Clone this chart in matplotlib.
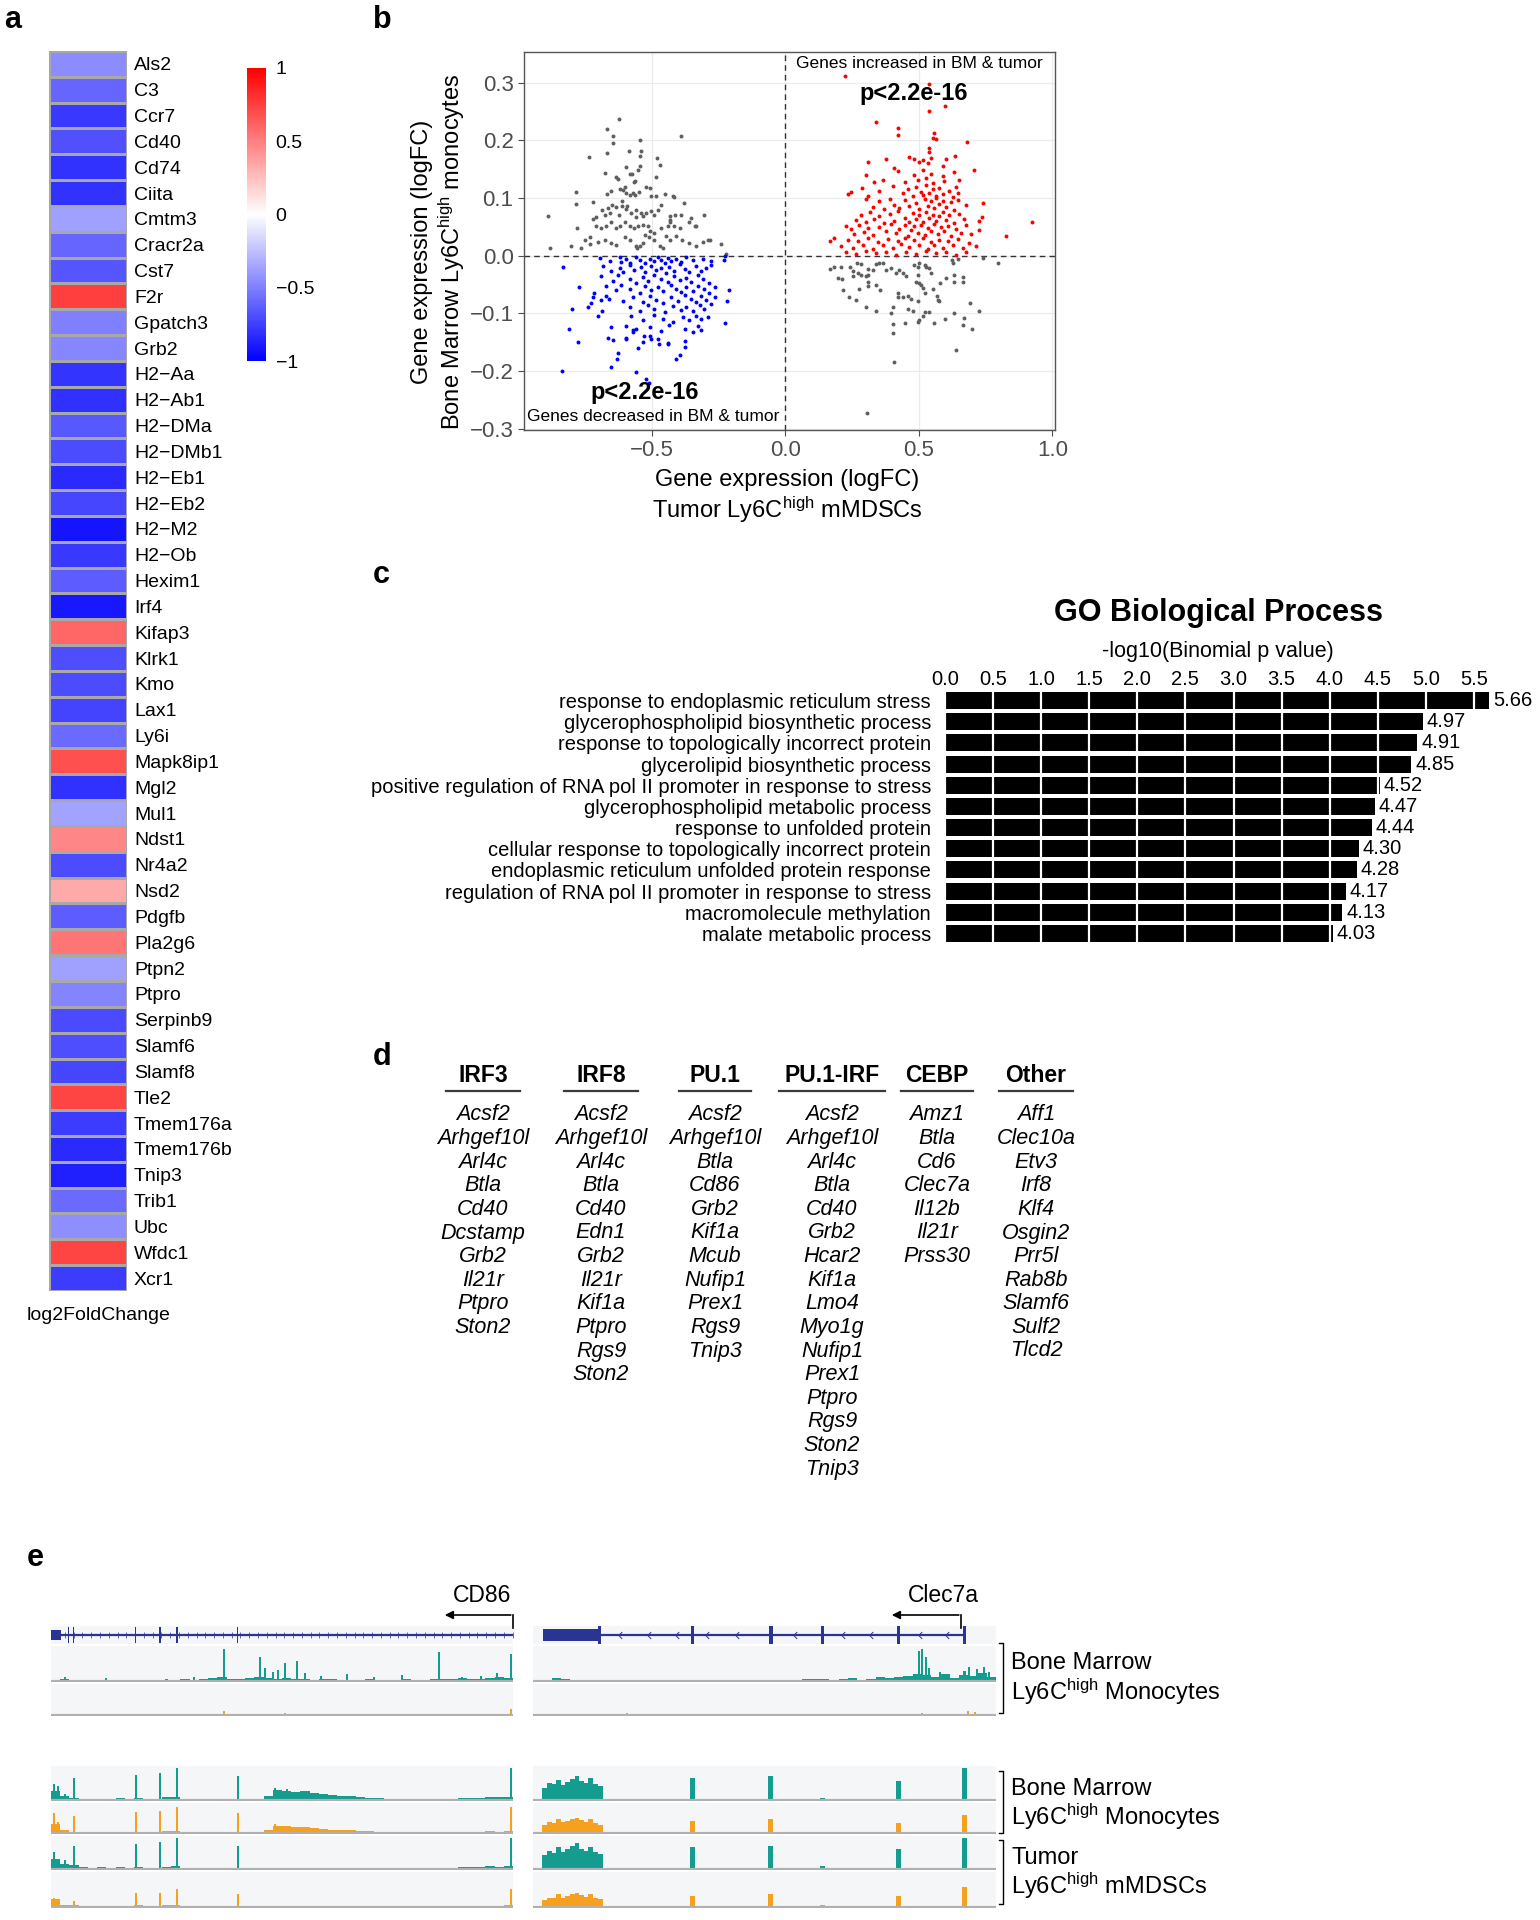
import numpy as np
import matplotlib
matplotlib.use('Agg')
import matplotlib.pyplot as plt
from matplotlib.colors import LinearSegmentedColormap
from matplotlib.path import Path

plt.rcParams['font.family'] = ['Liberation Sans', 'DejaVu Sans']
plt.rcParams['mathtext.fontset'] = 'custom'
plt.rcParams['mathtext.rm'] = 'Liberation Sans'
plt.rcParams['mathtext.it'] = 'Liberation Sans:italic'
plt.rcParams['mathtext.bf'] = 'Liberation Sans:bold'

# ---------------- DATA ----------------
# panel a
heat_genes = ['Als2', 'C3', 'Ccr7', 'Cd40', 'Cd74', 'Ciita', 'Cmtm3', 'Cracr2a', 'Cst7', 'F2r',
              'Gpatch3', 'Grb2', 'H2\u2212Aa', 'H2\u2212Ab1', 'H2\u2212DMa', 'H2\u2212DMb1', 'H2\u2212Eb1',
              'H2\u2212Eb2', 'H2\u2212M2', 'H2\u2212Ob', 'Hexim1', 'Irf4', 'Kifap3', 'Klrk1', 'Kmo', 'Lax1',
              'Ly6i', 'Mapk8ip1', 'Mgl2', 'Mul1', 'Ndst1', 'Nr4a2', 'Nsd2', 'Pdgfb', 'Pla2g6', 'Ptpn2',
              'Ptpro', 'Serpinb9', 'Slamf6', 'Slamf8', 'Tle2', 'Tmem176a', 'Tmem176b', 'Tnip3', 'Trib1',
              'Ubc', 'Wfdc1', 'Xcr1']
heat_log2fc = [-0.45, -0.60, -0.78, -0.68, -0.80, -0.80, -0.37, -0.60, -0.66, 0.75,
               -0.50, -0.47, -0.79, -0.81, -0.65, -0.70, -0.83, -0.72, -0.92, -0.78,
               -0.64, -0.90, 0.60, -0.69, -0.70, -0.73, -0.58, 0.68, -0.81, -0.36,
               0.47, -0.70, 0.33, -0.64, 0.54, -0.37, -0.48, -0.71, -0.69, -0.72,
               0.73, -0.76, -0.83, -0.87, -0.58, -0.44, 0.73, -0.76]
cbar_ticks = [1, 0.5, 0, -0.5, -1]
cbar_ticklabels = ['1', '0.5', '0', '\u22120.5', '\u22121']

# panel b : (tumor logFC, bone-marrow logFC)
red_pts = [
    (0.224, 0.311), (0.536, 0.298), (0.539, 0.25), (0.596, 0.259), (0.34, 0.231), (0.421, 0.222), (0.423, 0.21),
    (0.558, 0.212), (0.552, 0.204), (0.565, 0.203), (0.68, 0.197), (0.539, 0.186), (0.537, 0.179), (0.925, 0.059),
    (0.828, 0.035), (0.742, 0.091), (0.738, 0.067),
    (0.308, 0.163), (0.377, 0.167), (0.408, 0.152), (0.464, 0.171), (0.483, 0.168), (0.502, 0.163), (0.514, 0.166),
    (0.533, 0.160), (0.546, 0.170), (0.589, 0.156), (0.602, 0.168), (0.635, 0.172), (0.708, 0.148),
    (0.302, 0.139), (0.33, 0.127), (0.365, 0.132), (0.421, 0.146), (0.446, 0.128), (0.483, 0.139), (0.496, 0.131),
    (0.514, 0.148), (0.527, 0.135), (0.546, 0.142), (0.552, 0.126), (0.589, 0.138), (0.595, 0.129), (0.633, 0.145),
    (0.652, 0.131),
    (0.233, 0.107), (0.246, 0.110), (0.287, 0.118), (0.308, 0.104), (0.352, 0.112), (0.402, 0.121), (0.439, 0.108),
    (0.458, 0.116), (0.477, 0.103), (0.489, 0.119), (0.508, 0.111), (0.514, 0.105), (0.527, 0.122), (0.539, 0.109),
    (0.552, 0.115), (0.564, 0.104), (0.577, 0.118), (0.589, 0.107), (0.614, 0.113), (0.627, 0.102), (0.639, 0.119),
    (0.645, 0.108),
    (0.30, 0.098), (0.327, 0.085), (0.352, 0.094), (0.371, 0.081), (0.39, 0.099), (0.408, 0.088), (0.427, 0.083),
    (0.446, 0.096), (0.464, 0.086), (0.489, 0.092), (0.502, 0.081), (0.521, 0.099), (0.533, 0.087), (0.546, 0.094),
    (0.558, 0.082), (0.564, 0.1), (0.577, 0.089), (0.589, 0.095), (0.602, 0.084), (0.62, 0.093), (0.633, 0.08),
    (0.645, 0.097), (0.677, 0.088),
    (0.265, 0.062), (0.283, 0.071), (0.302, 0.058), (0.315, 0.075), (0.333, 0.064), (0.352, 0.069), (0.371, 0.057),
    (0.39, 0.073), (0.408, 0.061), (0.421, 0.077), (0.446, 0.066), (0.464, 0.059), (0.477, 0.074), (0.489, 0.063),
    (0.502, 0.07), (0.514, 0.058), (0.527, 0.076), (0.539, 0.065), (0.552, 0.071), (0.564, 0.06), (0.577, 0.068),
    (0.589, 0.075), (0.602, 0.062), (0.614, 0.07), (0.633, 0.057), (0.652, 0.073), (0.67, 0.064), (0.724, 0.061),
    (0.165, 0.025), (0.183, 0.031), (0.227, 0.052), (0.246, 0.046), (0.258, 0.038), (0.277, 0.053), (0.296, 0.041),
    (0.308, 0.048), (0.327, 0.036), (0.352, 0.05), (0.377, 0.043), (0.396, 0.055), (0.414, 0.039), (0.427, 0.047),
    (0.446, 0.053), (0.458, 0.034), (0.471, 0.045), (0.483, 0.051), (0.496, 0.04), (0.508, 0.054), (0.521, 0.036),
    (0.533, 0.048), (0.546, 0.042), (0.558, 0.055), (0.571, 0.037), (0.583, 0.049), (0.595, 0.043), (0.608, 0.052),
    (0.62, 0.035), (0.639, 0.046), (0.658, 0.04), (0.677, 0.053), (0.695, 0.038), (0.727, 0.044),
    (0.208, 0.017), (0.233, 0.028), (0.252, 0.014), (0.271, 0.025), (0.29, 0.019), (0.308, 0.031), (0.327, 0.012),
    (0.346, 0.024), (0.365, 0.018), (0.383, 0.029), (0.402, 0.013), (0.421, 0.026), (0.433, 0.02), (0.446, 0.03),
    (0.464, 0.015), (0.483, 0.027), (0.502, 0.018), (0.514, 0.031), (0.533, 0.012), (0.546, 0.024), (0.558, 0.019),
    (0.577, 0.028), (0.589, 0.014), (0.608, 0.025), (0.627, 0.018), (0.645, 0.029), (0.664, 0.013), (0.689, 0.022),
    (0.714, 0.016),
    (0.227, 0.006), (0.265, 0.003), (0.302, 0.008), (0.34, 0.004), (0.377, 0.007), (0.414, 0.002), (0.452, 0.006),
    (0.489, 0.003), (0.527, 0.008), (0.564, 0.004), (0.602, 0.007), (0.639, 0.002), (0.677, 0.006)]

grey_right_pts = [
    (0.795, -0.013), (0.69, -0.082), (0.727, -0.095), (0.67, -0.108), (0.667, -0.12), (0.70, -0.127), (0.64, -0.164),
    (0.408, -0.184), (0.306, -0.273), (0.402, -0.134), (0.402, -0.118), (0.446, -0.117),
    (0.496, -0.115), (0.502, -0.111), (0.517, -0.105), (0.523, -0.097), (0.539, -0.097), (0.558, -0.117),
    (0.599, -0.110), (0.63, -0.099), (0.396, -0.1), (0.402, -0.089), (0.30, -0.088), (0.34, -0.095), (0.458, -0.093),
    (0.477, -0.095), (0.496, -0.079), (0.237, -0.071), (0.265, -0.076),
    (0.215, -0.059), (0.277, -0.058), (0.308, -0.052), (0.356, -0.059), (0.423, -0.064), (0.423, -0.072),
    (0.44, -0.072), (0.458, -0.069), (0.471, -0.075), (0.568, -0.069), (0.571, -0.076), (0.574, -0.078),
    (0.514, -0.056), (0.521, -0.065), (0.552, -0.058), (0.58, -0.047), (0.633, -0.045), (0.664, -0.045),
    (0.664, -0.037), (0.196, -0.038), (0.212, -0.041), (0.252, -0.035), (0.283, -0.033), (0.30, -0.035),
    (0.308, -0.033), (0.252, -0.027), (0.271, -0.03),
    (0.165, -0.023), (0.181, -0.019), (0.209, -0.019), (0.24, -0.02), (0.267, -0.013), (0.283, -0.014),
    (0.308, -0.023), (0.327, -0.024), (0.34, -0.015), (0.352, -0.013), (0.364, -0.012), (0.377, -0.024),
    (0.396, -0.021), (0.415, -0.030), (0.427, -0.024), (0.442, -0.030), (0.452, -0.036),
    (0.483, -0.016), (0.496, -0.019), (0.502, -0.013), (0.521, -0.016), (0.527, -0.019), (0.539, -0.021),
    (0.546, -0.03), (0.496, -0.033), (0.49, -0.045), (0.502, -0.047), (0.508, -0.05),
    (0.602, -0.039), (0.623, -0.007), (0.627, -0.012), (0.648, -0.006), (0.742, -0.004), (0.633, -0.033),
    (0.308, -0.045), (0.34, -0.05)]

blue_pts = [
    (-0.834, -0.019), (-0.774, -0.054), (-0.8, -0.093), (-0.812, -0.127), (-0.778, -0.15), (-0.836, -0.199),
    (-0.740, -0.089), (-0.728, -0.082), (-0.722, -0.072), (-0.718, -0.064), (-0.693, -0.076), (-0.687, -0.095),
    (-0.703, -0.105), (-0.663, -0.075), (-0.653, -0.124), (-0.665, -0.143), (-0.647, -0.146), (-0.628, -0.168),
    (-0.63, -0.179), (-0.653, -0.193), (-0.562, -0.201), (-0.522, -0.213), (-0.513, -0.221), (-0.553, -0.160),
    (-0.597, -0.145), (-0.572, -0.133), (-0.559, -0.127), (-0.532, -0.139), (-0.509, -0.139), (-0.503, -0.145),
    (-0.474, -0.153), (-0.441, -0.153), (-0.409, -0.179), (-0.397, -0.172), (-0.375, -0.158), (-0.227, -0.116),
    (-0.21, -0.059), (-0.22, -0.078), (-0.266, -0.072), (-0.231, -0.007), (-0.228, -0.001),
    (-0.697, -0.004), (-0.659, -0.009), (-0.622, -0.002), (-0.616, -0.011), (-0.597, -0.006), (-0.584, -0.013),
    (-0.559, -0.003), (-0.547, -0.008), (-0.528, -0.012), (-0.509, -0.005), (-0.491, -0.01), (-0.478, -0.002),
    (-0.466, -0.007), (-0.453, -0.012), (-0.441, -0.004), (-0.428, -0.009), (-0.41, -0.006), (-0.391, -0.011),
    (-0.372, -0.003), (-0.347, -0.008), (-0.31, -0.005), (-0.279, -0.01),
    (-0.684, -0.018), (-0.653, -0.026), (-0.622, -0.021), (-0.609, -0.029), (-0.584, -0.016), (-0.566, -0.024),
    (-0.541, -0.02), (-0.528, -0.028), (-0.503, -0.017), (-0.485, -0.025), (-0.466, -0.022), (-0.447, -0.03),
    (-0.435, -0.019), (-0.416, -0.027), (-0.397, -0.015), (-0.378, -0.023), (-0.36, -0.028), (-0.335, -0.018),
    (-0.316, -0.026), (-0.297, -0.021), (-0.279, -0.016),
    (-0.691, -0.036), (-0.647, -0.043), (-0.628, -0.034), (-0.584, -0.041), (-0.559, -0.047), (-0.535, -0.037),
    (-0.516, -0.044), (-0.491, -0.033), (-0.466, -0.04), (-0.441, -0.046), (-0.416, -0.035), (-0.397, -0.042),
    (-0.372, -0.038), (-0.353, -0.045), (-0.328, -0.034), (-0.31, -0.041), (-0.285, -0.048),
    (-0.672, -0.053), (-0.634, -0.06), (-0.616, -0.051), (-0.584, -0.058), (-0.547, -0.064), (-0.528, -0.052),
    (-0.503, -0.059), (-0.478, -0.055), (-0.46, -0.062), (-0.428, -0.05), (-0.41, -0.057), (-0.391, -0.063),
    (-0.372, -0.054), (-0.347, -0.061), (-0.328, -0.052), (-0.304, -0.058), (-0.285, -0.064), (-0.266, -0.055),
    (-0.672, -0.07), (-0.609, -0.078), (-0.572, -0.072), (-0.535, -0.08), (-0.509, -0.069), (-0.485, -0.076),
    (-0.46, -0.082), (-0.428, -0.071), (-0.403, -0.079), (-0.378, -0.068), (-0.353, -0.075), (-0.335, -0.081),
    (-0.316, -0.07), (-0.297, -0.077), (-0.279, -0.083),
    (-0.584, -0.088), (-0.547, -0.095), (-0.516, -0.086), (-0.491, -0.093), (-0.453, -0.098), (-0.422, -0.087),
    (-0.391, -0.094), (-0.372, -0.089), (-0.347, -0.096), (-0.322, -0.085), (-0.304, -0.092),
    (-0.578, -0.105), (-0.535, -0.111), (-0.491, -0.103), (-0.46, -0.109), (-0.422, -0.114), (-0.385, -0.106),
    (-0.36, -0.112), (-0.335, -0.104), (-0.316, -0.11), (-0.291, -0.107),
    (-0.597, -0.122), (-0.572, -0.129), (-0.509, -0.124), (-0.466, -0.131), (-0.435, -0.12), (-0.378, -0.127),
    (-0.347, -0.133), (-0.328, -0.121), (-0.316, -0.128),
    (-0.597, -0.142), (-0.535, -0.149), (-0.478, -0.144), (-0.441, -0.151), (-0.378, -0.147)]

grey_left_pts = [
    (-0.624, 0.237), (-0.669, 0.219), (-0.647, 0.207), (-0.647, 0.195), (-0.391, 0.207), (-0.544, 0.2),
    (-0.668, 0.178), (-0.588, 0.181), (-0.543, 0.182), (-0.547, 0.172), (-0.481, 0.170), (-0.471, 0.158),
    (-0.737, 0.171), (-0.599, 0.153), (-0.553, 0.149), (-0.547, 0.155), (-0.675, 0.144), (-0.634, 0.136),
    (-0.628, 0.133), (-0.582, 0.142), (-0.576, 0.141), (-0.563, 0.130), (-0.568, 0.127), (-0.484, 0.136),
    (-0.784, 0.110), (-0.655, 0.113), (-0.668, 0.107), (-0.619, 0.115), (-0.609, 0.114), (-0.603, 0.119),
    (-0.597, 0.108), (-0.584, 0.106), (-0.572, 0.108), (-0.563, 0.106), (-0.549, 0.111), (-0.522, 0.119),
    (-0.509, 0.117), (-0.503, 0.104), (-0.487, 0.103), (-0.453, 0.107), (-0.422, 0.103), (-0.416, 0.102),
    (-0.382, 0.091), (-0.784, 0.089), (-0.722, 0.093),
    (-0.89, 0.069), (-0.884, 0.014), (-0.78, 0.048), (-0.805, 0.016), (-0.765, 0.014), (-0.753, 0.028),
    (-0.734, 0.033), (-0.734, 0.021),
    (-0.722, 0.063), (-0.709, 0.067), (-0.687, 0.080), (-0.678, 0.071), (-0.666, 0.082), (-0.657, 0.074),
    (-0.649, 0.088), (-0.634, 0.085), (-0.624, 0.071), (-0.612, 0.094), (-0.612, 0.086), (-0.597, 0.081),
    (-0.593, 0.087), (-0.578, 0.074), (-0.562, 0.080), (-0.559, 0.067), (-0.543, 0.074), (-0.534, 0.068),
    (-0.522, 0.074), (-0.503, 0.077), (-0.494, 0.071), (-0.478, 0.080), (-0.466, 0.088), (-0.434, 0.069),
    (-0.434, 0.062), (-0.413, 0.071), (-0.393, 0.071), (-0.356, 0.065), (-0.337, 0.052), (-0.307, 0.071),
    (-0.709, 0.051), (-0.690, 0.048), (-0.672, 0.052), (-0.655, 0.059), (-0.637, 0.048), (-0.622, 0.052),
    (-0.603, 0.058), (-0.584, 0.052), (-0.566, 0.048), (-0.553, 0.051), (-0.534, 0.054), (-0.516, 0.051),
    (-0.509, 0.042), (-0.491, 0.040), (-0.466, 0.048), (-0.441, 0.051), (-0.434, 0.058), (-0.416, 0.051),
    (-0.397, 0.048), (-0.360, 0.058), (-0.341, 0.051),
    (-0.703, 0.023), (-0.678, 0.028), (-0.653, 0.022), (-0.634, 0.019), (-0.603, 0.033), (-0.584, 0.028),
    (-0.559, 0.016), (-0.557, 0.013), (-0.547, 0.017), (-0.534, 0.022), (-0.528, 0.036), (-0.512, 0.033),
    (-0.491, 0.028), (-0.469, 0.016), (-0.459, 0.013), (-0.447, 0.034), (-0.434, 0.028), (-0.409, 0.034),
    (-0.387, 0.028), (-0.360, 0.022), (-0.334, 0.016), (-0.310, 0.023), (-0.291, 0.028), (-0.282, 0.028),
    (-0.241, 0.021), (-0.222, 0.003)]

b_xticks = [-0.5, 0.0, 0.5, 1.0]
b_xticklabels = ['\u22120.5', '0.0', '0.5', '1.0']
b_yticks = [-0.3, -0.2, -0.1, 0.0, 0.1, 0.2, 0.3]
b_yticklabels = ['\u22120.3', '\u22120.2', '\u22120.1', '0.0', '0.1', '0.2', '0.3']

# panel c
go_terms = ['response to endoplasmic reticulum stress', 'glycerophospholipid biosynthetic process',
            'response to topologically incorrect protein', 'glycerolipid biosynthetic process',
            'positive regulation of RNA pol II promoter in response to stress',
            'glycerophospholipid metabolic process', 'response to unfolded protein',
            'cellular response to topologically incorrect protein',
            'endoplasmic reticulum unfolded protein response',
            'regulation of RNA pol II promoter in response to stress', 'macromolecule methylation',
            'malate metabolic process']
go_values = [5.66, 4.97, 4.91, 4.85, 4.52, 4.47, 4.44, 4.30, 4.28, 4.17, 4.13, 4.03]
go_ticks = [0.0, 0.5, 1.0, 1.5, 2.0, 2.5, 3.0, 3.5, 4.0, 4.5, 5.0, 5.5]

# panel d
motif_names = ['IRF3', 'IRF8', 'PU.1', 'PU.1-IRF', 'CEBP', 'Other']
motif_genes = [
    ['Acsf2', 'Arhgef10l', 'Arl4c', 'Btla', 'Cd40', 'Dcstamp', 'Grb2', 'Il21r', 'Ptpro', 'Ston2'],
    ['Acsf2', 'Arhgef10l', 'Arl4c', 'Btla', 'Cd40', 'Edn1', 'Grb2', 'Il21r', 'Kif1a', 'Ptpro', 'Rgs9', 'Ston2'],
    ['Acsf2', 'Arhgef10l', 'Btla', 'Cd86', 'Grb2', 'Kif1a', 'Mcub', 'Nufip1', 'Prex1', 'Rgs9', 'Tnip3'],
    ['Acsf2', 'Arhgef10l', 'Arl4c', 'Btla', 'Cd40', 'Grb2', 'Hcar2', 'Kif1a', 'Lmo4', 'Myo1g', 'Nufip1',
     'Prex1', 'Ptpro', 'Rgs9', 'Ston2', 'Tnip3'],
    ['Amz1', 'Btla', 'Cd6', 'Clec7a', 'Il12b', 'Il21r', 'Prss30'],
    ['Aff1', 'Clec10a', 'Etv3', 'Irf8', 'Klf4', 'Osgin2', 'Prr5l', 'Rab8b', 'Slamf6', 'Sulf2', 'Tlcd2'],
]

# panel e (positions in % of the displayed locus, heights relative to track max)
bin2_pos = np.arange(1, 100, 2)  # 2%-wide coverage bins
cd86_bm1_teal_bg = [0.06, 0.08, 0.05, 0.04, 0.06, 0.05, 0.07, 0.04, 0.05, 0.06, 0.05, 0.07, 0.06, 0.05, 0.08, 0.06, 0.10,
                    0.12, 0.14, 0.10, 0.08, 0.12, 0.15, 0.13, 0.10, 0.12, 0.09, 0.10, 0.07, 0.08, 0.09, 0.07, 0.06, 0.05,
                    0.10, 0.07, 0.06, 0.05, 0.08, 0.06, 0.07, 0.09, 0.10, 0.08, 0.12, 0.10, 0.08, 0.11, 0.14, 0.12]
cd86_bm1_teal_pk_x = [3.0, 12.0, 25.0, 31.0, 37.4, 45.3, 46.3, 48.0, 49.2, 50.6, 53.2, 55.0, 58.5, 64.0, 70.0, 76.0,
                      84.0, 89.0, 93.0, 96.5, 99.6]
cd86_bm1_teal_pk_h = [0.15, 0.12, 0.10, 0.15, 0.97, 0.72, 0.40, 0.30, 0.35, 0.55, 0.60, 0.25, 0.18, 0.22, 0.15, 0.20,
                      0.88, 0.15, 0.18, 0.25, 0.82]
cd86_bm1_orng_pk_x = [25.0, 37.4, 50.6, 52.6, 79.0, 84.0, 99.6]
cd86_bm1_orng_pk_h = [0.04, 0.16, 0.10, 0.08, 0.04, 0.05, 0.22]

cd86_bm2_teal_bg = [0.30, 0.15, 0.10, 0.07, 0.06, 0.07, 0.06, 0.08, 0.06, 0.10, 0.06, 0.07, 0.12, 0.13, 0.06, 0.05, 0.06,
                    0.05, 0.06, 0.07, 0.06, 0.05, 0.05, 0.15, 0.32, 0.30, 0.28, 0.30, 0.25, 0.20, 0.18, 0.15, 0.14, 0.12,
                    0.10, 0.08, 0.06, 0.05, 0.06, 0.05, 0.06, 0.05, 0.07, 0.06, 0.08, 0.09, 0.10, 0.12, 0.11, 0.13]
cd86_bm2_teal_pk_x = [0.6, 1.6, 3.0, 4.9, 18.3, 23.6, 27.2, 40.4, 48.5, 51.0, 99.6]
cd86_bm2_teal_pk_h = [0.50, 0.45, 0.20, 0.70, 0.78, 0.85, 1.00, 0.75, 0.40, 0.35, 1.00]
cd86_bm2_orng_bg = [0.35, 0.12, 0.08, 0.05, 0.05, 0.06, 0.05, 0.06, 0.05, 0.08, 0.05, 0.06, 0.10, 0.10, 0.05, 0.04, 0.05,
                    0.04, 0.05, 0.05, 0.05, 0.04, 0.04, 0.12, 0.28, 0.27, 0.25, 0.24, 0.22, 0.18, 0.15, 0.13, 0.12, 0.10,
                    0.09, 0.07, 0.05, 0.04, 0.05, 0.04, 0.05, 0.04, 0.05, 0.05, 0.06, 0.07, 0.08, 0.09, 0.08, 0.10]
cd86_bm2_orng_pk_x = [0.6, 1.6, 4.9, 18.3, 23.6, 27.2, 40.4, 48.5, 99.6]
cd86_bm2_orng_pk_h = [0.72, 0.40, 0.60, 0.75, 0.78, 0.92, 0.70, 0.35, 0.92]
cd86_tu_teal_bg = [0.35, 0.20, 0.15, 0.08, 0.07, 0.08, 0.07, 0.08, 0.07, 0.10, 0.04, 0.05, 0.10, 0.12, 0.06, 0.06, 0.05,
                   0.06, 0.05, 0.05, 0.05, 0.04, 0.05, 0.06, 0.05, 0.06, 0.05, 0.05, 0.06, 0.05, 0.05, 0.06, 0.05, 0.05,
                   0.06, 0.05, 0.05, 0.06, 0.05, 0.05, 0.06, 0.05, 0.06, 0.06, 0.08, 0.09, 0.10, 0.12, 0.10, 0.12]
cd86_tu_teal_pk_x = [0.6, 1.6, 3.0, 4.9, 18.3, 23.6, 27.2, 40.4, 99.6]
cd86_tu_teal_pk_h = [0.55, 0.35, 0.30, 0.75, 0.80, 0.88, 1.00, 0.75, 1.00]
cd86_tu_orng_bg = [0.25, 0.10, 0.08, 0.04, 0.04, 0.04, 0.04, 0.04, 0.04, 0.08, 0.04, 0.05, 0.08, 0.08, 0.04, 0.04, 0.04,
                   0.04, 0.04, 0.04, 0.04, 0.03, 0.04, 0.04, 0.04, 0.04, 0.04, 0.04, 0.04, 0.04, 0.04, 0.04, 0.04, 0.04,
                   0.04, 0.04, 0.04, 0.04, 0.04, 0.04, 0.04, 0.04, 0.04, 0.05, 0.05, 0.06, 0.06, 0.07, 0.06, 0.08]
cd86_tu_orng_pk_x = [0.6, 1.6, 4.9, 18.3, 23.6, 27.2, 40.4, 99.6]
cd86_tu_orng_pk_h = [0.30, 0.22, 0.20, 0.45, 0.45, 0.55, 0.40, 0.55]

clec_bm1_teal_bg = [0.00, 0.06, 0.12, 0.10, 0.06, 0.05, 0.04, 0.05, 0.03, 0.04, 0.03, 0.06, 0.05, 0.07, 0.04, 0.05, 0.06,
                    0.04, 0.05, 0.03, 0.04, 0.05, 0.04, 0.06, 0.03, 0.05, 0.04, 0.05, 0.04, 0.10, 0.08, 0.10, 0.06, 0.08,
                    0.12, 0.07, 0.10, 0.14, 0.12, 0.15, 0.18, 0.22, 0.20, 0.15, 0.22, 0.12, 0.20, 0.18, 0.25, 0.15]
clec_bm1_teal_pk_x = [83.4, 84.1, 84.8, 85.6, 88.0, 93.2, 94.2, 95.8, 97.4, 98.5]
clec_bm1_teal_pk_h = [0.90, 0.97, 0.72, 0.40, 0.28, 0.32, 0.45, 0.38, 0.45, 0.30]
clec_bm1_orng_pk_x = [20.3, 42.4, 48.6, 59.5, 78.0, 80.0, 84.0, 94.0, 95.5]
clec_bm1_orng_pk_h = [0.10, 0.05, 0.05, 0.05, 0.06, 0.08, 0.10, 0.15, 0.12]

clec_mound_x = [2.5, 3.5, 4.5, 5.5, 6.5, 7.5, 8.5, 9.5, 10.5, 11.5, 12.5, 13.5, 14.5]
clec_peak_x = [34.5, 51.3, 62.5, 78.9, 93.2]
clec_bm2_teal_mound = [0.40, 0.55, 0.50, 0.62, 0.48, 0.58, 0.66, 0.75, 0.60, 0.55, 0.70, 0.52, 0.45]
clec_bm2_teal_pk_h = [0.70, 0.75, 0.08, 0.60, 1.00]
clec_bm2_orng_mound = [0.30, 0.42, 0.38, 0.50, 0.40, 0.45, 0.52, 0.55, 0.48, 0.42, 0.50, 0.38, 0.32]
clec_bm2_orng_pk_h = [0.45, 0.50, 0.03, 0.38, 0.65]
clec_tu_teal_mound = [0.45, 0.60, 0.52, 0.70, 0.55, 0.65, 0.75, 0.82, 0.65, 0.60, 0.72, 0.55, 0.48]
clec_tu_teal_pk_h = [0.70, 0.75, 0.12, 0.65, 1.00]
clec_tu_orng_mound = [0.22, 0.30, 0.28, 0.40, 0.30, 0.35, 0.40, 0.45, 0.38, 0.32, 0.40, 0.30, 0.25]
clec_tu_orng_pk_h = [0.35, 0.40, 0.10, 0.35, 0.60]

cd86_utr = (0.0, 2.1)
cd86_exons = [3.8, 4.9, 18.3, 23.6, 27.2, 40.4]
clec_utr = (2.1, 14.3)
clec_exons = [14.3, 34.5, 51.4, 62.5, 78.9, 93.2]

# ---------------- FIGURE ----------------
W, H = 1540, 1920
fig = plt.figure(figsize=(W / 100, H / 100), dpi=100)


def box(x0, y0, x1, y1):
    return [x0 / W, 1 - y1 / H, (x1 - x0) / W, (y1 - y0) / H]


ov = fig.add_axes([0, 0, 1, 1])
ov.set_xlim(0, W)
ov.set_ylim(H, 0)
ov.axis('off')
ov.set_zorder(10)

for lab, (lx, ly) in zip('abcde', [(4, 28), (373, 28), (373, 583), (373, 1065), (27, 1566)]):
    ov.text(lx, ly, lab, fontsize=22, fontweight='bold', va='baseline', ha='left')

# ---- panel a ----
cmap = LinearSegmentedColormap.from_list('bwr2', ['#0000ff', '#ffffff', '#ff0000'])
ax_h = fig.add_axes(box(49, 51, 127, 1291))
vals = np.array(heat_log2fc).reshape(-1, 1)
mesh = ax_h.pcolormesh(vals, cmap=cmap, vmin=-1, vmax=1, edgecolors='#a8a8a8', linewidth=1.0)
ax_h.set_xlim(0, 1)
ax_h.set_ylim(len(heat_genes), 0)
ax_h.set_yticks(np.arange(len(heat_genes)) + 0.5)
ax_h.set_yticklabels(heat_genes, fontsize=14)
ax_h.yaxis.tick_right()
ax_h.tick_params(axis='y', length=0, pad=5)
ax_h.set_xticks([])
for s in ax_h.spines.values():
    s.set_visible(False)

cax = fig.add_axes(box(247, 68, 266, 361))
cb = fig.colorbar(mesh, cax=cax, ticks=cbar_ticks)
cb.ax.set_yticklabels(cbar_ticklabels, fontsize=14)
cb.outline.set_visible(False)
cb.ax.tick_params(length=0, pad=7)
ov.text(27, 1316, 'log2FoldChange', fontsize=14, ha='left', va='center')

# ---- panel b ----
ax_s = fig.add_axes(box(524, 52, 1055, 430))
ax_s.set_axisbelow(True)
ax_s.grid(True, color='#ebebeb', lw=0.9)
for pts, col in [(grey_left_pts, '#5f5f5f'), (grey_right_pts, '#5f5f5f'), (blue_pts, '#0000ff'), (red_pts, '#ff0000')]:
    px, py = zip(*pts)
    ax_s.scatter(px, py, s=8, c=col, linewidths=0, zorder=3)
ax_s.axvline(0, ls=(0, (4, 3)), color='#333333', lw=1.0, zorder=2)
ax_s.axhline(0, ls=(0, (4, 3)), color='#333333', lw=1.0, zorder=2)
ax_s.set_xlim(-0.98, 1.01)
ax_s.set_ylim(-0.302, 0.353)
ax_s.set_xticks(b_xticks)
ax_s.set_xticklabels(b_xticklabels)
ax_s.set_yticks(b_yticks)
ax_s.set_yticklabels(b_yticklabels)
ax_s.tick_params(labelsize=16, colors='#4d4d4d', length=4, width=0.8)
for s in ax_s.spines.values():
    s.set_color('#555555')
    s.set_linewidth(1.0)
ax_s.text(0.5, 0.333, 'Genes increased in BM & tumor', fontsize=12.5, ha='center', va='center', zorder=4)
ax_s.text(0.48, 0.281, 'p<2.2e-16', fontsize=17, fontweight='bold', ha='center', va='center', zorder=4)
ax_s.text(-0.528, -0.2376, 'p<2.2e-16', fontsize=17, fontweight='bold', ha='center', va='center', zorder=4)
ax_s.text(-0.494, -0.279, 'Genes decreased in BM & tumor', fontsize=12.5, ha='center', va='center', zorder=4)
ov.text(439, 252, 'Gene expression (logFC)\nBone Marrow Ly6C$^{\\mathrm{high}}$ monocytes', fontsize=17,
        rotation=90, ha='center', va='center', multialignment='center', linespacing=1.15)
ov.text(787, 497, 'Gene expression (logFC)\nTumor Ly6C$^{\\mathrm{high}}$ mMDSCs', fontsize=17,
        ha='center', va='center', multialignment='center', linespacing=1.15)

# ---- panel c ----
ax_g = fig.add_axes(box(945, 690, 1522, 944))
yy = np.arange(len(go_terms))
ax_g.barh(yy, go_values, height=0.8, color='black', zorder=1)
ax_g.set_xlim(0, 6.0)
ax_g.set_ylim(len(go_terms) - 0.5, -0.5)
ax_g.set_yticks(yy)
ax_g.set_yticklabels(go_terms, fontsize=14.5)
ax_g.xaxis.tick_top()
ax_g.set_xticks(go_ticks)
ax_g.set_xticklabels([f'{t:.1f}' for t in go_ticks], fontsize=14.5)
ax_g.tick_params(axis='both', length=0)
ax_g.tick_params(axis='y', pad=10)
ax_g.tick_params(axis='x', pad=1)
ax_g.set_axisbelow(False)
ax_g.xaxis.grid(True, color='white', lw=1.6)
for s in ax_g.spines.values():
    s.set_visible(False)
for i, v in enumerate(go_values):
    ax_g.text(v + 0.04, i, f'{v:.2f}', fontsize=14.5, va='center', ha='left')
ov.text(1218, 613, 'GO Biological Process', fontsize=22, fontweight='bold', ha='center', va='center')
ov.text(1218, 651, '-log10(Binomial p value)', fontsize=15.5, ha='center', va='center')

# ---- panel d ----
col_x = [483, 601, 715, 832, 937, 1036]
ul_half = [37, 37, 36, 53, 36, 37]
for name, genes, cx, hw in zip(motif_names, motif_genes, col_x, ul_half):
    ov.text(cx, 1075, name, fontsize=16.5, fontweight='bold', ha='center', va='center')
    ov.plot([cx - hw, cx + hw], [1091, 1091], color='#3a3a3a', lw=1.6)
    for j, g in enumerate(genes):
        ov.text(cx, 1115 + j * 23.6, g, fontsize=15.5, style='italic', ha='center', va='center')

# ---- panel e ----
TEAL = '#149c8e'
ORNG = '#f5a01e'
NAVY = '#2a3593'
BG = '#f5f6f8'


def track(x0, x1, y0, y1, color, bg=None, pk_x=None, pk_h=None, pk_w=0.45, mound_x=None, mound_h=None):
    ax = fig.add_axes(box(x0, y0, x1, y1))
    ax.set_facecolor(BG)
    if bg is not None:
        ax.bar(bin2_pos, bg, width=2.0, color=color, linewidth=0)
    if mound_x is not None:
        ax.bar(mound_x, mound_h, width=1.05, color=color, linewidth=0)
    if pk_x is not None:
        ax.bar(pk_x, pk_h, width=pk_w, color=color, linewidth=0)
    ax.set_xlim(0, 100)
    ax.set_ylim(0, 1.05)
    ax.axhline(0, color='#b0b0b0', lw=3)
    ax.set_xticks([])
    ax.set_yticks([])
    for s in ax.spines.values():
        s.set_visible(False)
    return ax


LX0, LX1 = 51, 513
RX0, RX1 = 533, 996

chev = Path([(0.5, 1.0), (-0.5, 0.0), (0.5, -1.0)], [Path.MOVETO, Path.LINETO, Path.LINETO])

# gene models
gl = fig.add_axes(box(LX0, 1626, LX1, 1644))
gl.set_facecolor(BG)
gl.hlines(0.5, cd86_utr[0], 100, color=NAVY, lw=1.6)
gl.bar((cd86_utr[0] + cd86_utr[1]) / 2, 0.6, bottom=0.2, width=cd86_utr[1] - cd86_utr[0], color=NAVY, linewidth=0)
gl.bar(cd86_exons, 0.9, bottom=0.05, width=[0.2, 0.2, 0.3, 0.45, 0.45, 0.2], color=NAVY, linewidth=0)
tick_x = np.arange(3.0, 100, 1.9)
gl.plot(tick_x, np.full(len(tick_x), 0.5), ls='none', marker='|', ms=5, mew=0.5, color=NAVY)
gl.set_xlim(0, 100)
gl.set_ylim(0, 1)
gl.set_xticks([])
gl.set_yticks([])
for s in gl.spines.values():
    s.set_visible(False)

gr = fig.add_axes(box(RX0, 1626, RX1, 1644))
gr.set_facecolor(BG)
gr.hlines(0.5, clec_utr[0], clec_exons[-1], color=NAVY, lw=1.6)
gr.bar((clec_utr[0] + clec_utr[1]) / 2, 0.7, bottom=0.15, width=clec_utr[1] - clec_utr[0], color=NAVY, linewidth=0)
gr.bar(clec_exons, 0.95, bottom=0.025, width=0.7, color=NAVY, linewidth=0)
chev_x = [18.8, 25.0, 31.0, 37.5, 44.0, 56.5, 67.0, 73.0, 83.5, 89.5]
gr.plot(chev_x, np.full(len(chev_x), 0.5), ls='none', marker=chev, ms=5, mfc='none', mec=NAVY, mew=0.7)
gr.set_xlim(0, 100)
gr.set_ylim(0, 1)
gr.set_xticks([])
gr.set_yticks([])
for s in gr.spines.values():
    s.set_visible(False)

# signal tracks
track(LX0, LX1, 1646, 1682, TEAL, bg=cd86_bm1_teal_bg, pk_x=cd86_bm1_teal_pk_x, pk_h=cd86_bm1_teal_pk_h)
track(LX0, LX1, 1684, 1716, ORNG, pk_x=cd86_bm1_orng_pk_x, pk_h=cd86_bm1_orng_pk_h)
track(RX0, RX1, 1646, 1682, TEAL, bg=clec_bm1_teal_bg, pk_x=clec_bm1_teal_pk_x, pk_h=clec_bm1_teal_pk_h)
track(RX0, RX1, 1684, 1716, ORNG, pk_x=clec_bm1_orng_pk_x, pk_h=clec_bm1_orng_pk_h)

track(LX0, LX1, 1766, 1801, TEAL, bg=cd86_bm2_teal_bg, pk_x=cd86_bm2_teal_pk_x, pk_h=cd86_bm2_teal_pk_h)
track(LX0, LX1, 1803, 1834, ORNG, bg=cd86_bm2_orng_bg, pk_x=cd86_bm2_orng_pk_x, pk_h=cd86_bm2_orng_pk_h)
track(LX0, LX1, 1836, 1870, TEAL, bg=cd86_tu_teal_bg, pk_x=cd86_tu_teal_pk_x, pk_h=cd86_tu_teal_pk_h)
track(LX0, LX1, 1872, 1908, ORNG, bg=cd86_tu_orng_bg, pk_x=cd86_tu_orng_pk_x, pk_h=cd86_tu_orng_pk_h)

track(RX0, RX1, 1766, 1801, TEAL, mound_x=clec_mound_x, mound_h=clec_bm2_teal_mound, pk_x=clec_peak_x,
      pk_h=clec_bm2_teal_pk_h, pk_w=1.0)
track(RX0, RX1, 1803, 1834, ORNG, mound_x=clec_mound_x, mound_h=clec_bm2_orng_mound, pk_x=clec_peak_x,
      pk_h=clec_bm2_orng_pk_h, pk_w=1.0)
track(RX0, RX1, 1836, 1870, TEAL, mound_x=clec_mound_x, mound_h=clec_tu_teal_mound, pk_x=clec_peak_x,
      pk_h=clec_tu_teal_pk_h, pk_w=1.0)
track(RX0, RX1, 1872, 1908, ORNG, mound_x=clec_mound_x, mound_h=clec_tu_orng_mound, pk_x=clec_peak_x,
      pk_h=clec_tu_orng_pk_h, pk_w=1.0)

# gene labels and TSS arrows
ov.text(482, 1596, 'CD86', fontsize=16.5, ha='center', va='center')
ov.text(943, 1596, 'Clec7a', fontsize=16.5, ha='center', va='center')
for tx, ax_end in [(513, 442), (961, 889)]:
    ov.plot([tx, tx], [1628, 1615], color='black', lw=1.2)
    ov.annotate('', xy=(ax_end, 1615), xytext=(tx + 0.6, 1615),
                arrowprops=dict(arrowstyle='-|>', color='black', lw=1.2, mutation_scale=12))

# brackets and sample labels
for (b0, b1), (l1, l2), (t1, t2) in [((1643, 1713), (1663, 1692), ('Bone Marrow', 'Ly6C$^{\\mathrm{high}}$ Monocytes')),
                                     ((1771, 1833), (1789, 1817), ('Bone Marrow', 'Ly6C$^{\\mathrm{high}}$ Monocytes')),
                                     ((1840, 1904), (1858, 1886), ('Tumor', 'Ly6C$^{\\mathrm{high}}$ mMDSCs'))]:
    ov.plot([999, 1003, 1003, 999], [b0, b0, b1, b1], color='black', lw=1.0)
    ov.text(1011, l1, t1, fontsize=17, ha='left', va='center')
    ov.text(1011, l2, t2, fontsize=17, ha='left', va='center')

fig.savefig('out.png', dpi=100, facecolor='white')
